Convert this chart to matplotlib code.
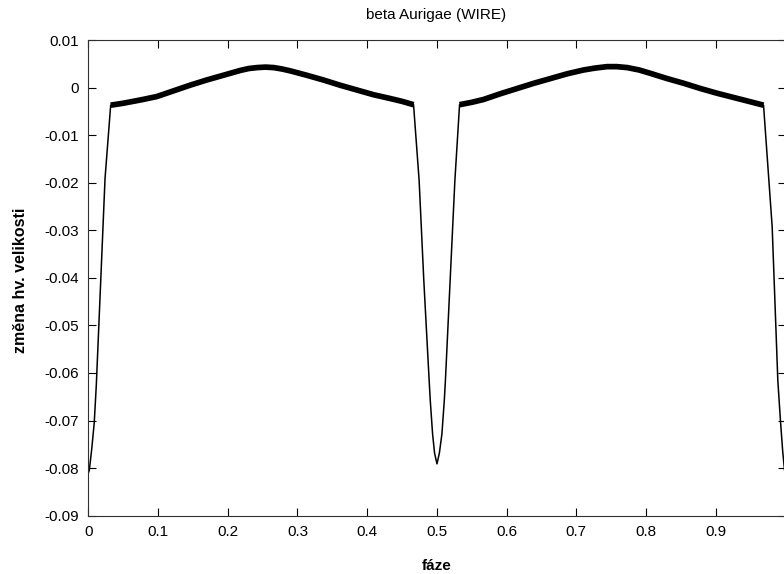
import matplotlib
matplotlib.use("Agg")
import matplotlib.pyplot as plt
import numpy as np

# Light curve of beta Aurigae (WIRE)
phase = [0.0, 0.0014, 0.0049, 0.0085, 0.0115, 0.0180, 0.0240, 0.0321,
         0.0500, 0.0750, 0.0980, 0.1220, 0.1460, 0.1700, 0.1940, 0.2180,
         0.2300, 0.2420, 0.2540, 0.2660, 0.2780, 0.2900, 0.3130, 0.3370,
         0.3610, 0.3850, 0.4090, 0.4330, 0.4500, 0.4665,
         0.4745, 0.4812, 0.4889, 0.4905, 0.4938, 0.4966, 0.5001, 0.5036,
         0.5072, 0.5106, 0.5122, 0.5190, 0.5258, 0.5325,
         0.5500, 0.5670, 0.5910, 0.6150, 0.6390, 0.6630, 0.6870, 0.7105,
         0.7270, 0.7440, 0.7580, 0.7730, 0.7900, 0.8060, 0.8300, 0.8540,
         0.8780, 0.9020, 0.9260, 0.9500, 0.9685,
         0.9809, 0.9890, 0.9928, 0.9960, 0.9986, 1.0]
mag = [-0.0810, -0.0805, -0.0760, -0.0705, -0.0625, -0.0400, -0.0191, -0.0037,
       -0.0033, -0.0026, -0.0019, -0.0007, 0.0005, 0.0016, 0.0026, 0.0036,
       0.0040, 0.0042, 0.0043, 0.0042, 0.0039, 0.0035, 0.0026, 0.0016,
       0.0005, -0.0005, -0.0015, -0.0023, -0.0029, -0.0036,
       -0.0195, -0.0405, -0.0616, -0.0658, -0.0728, -0.0768, -0.0791, -0.0768,
       -0.0728, -0.0658, -0.0616, -0.0405, -0.0195, -0.0036,
       -0.0031, -0.0025, -0.0013, -0.0002, 0.0009, 0.0019, 0.0029, 0.0037,
       0.0041, 0.0044, 0.0044, 0.0042, 0.0037, 0.0030, 0.0019, 0.0009,
       -0.0002, -0.0012, -0.0021, -0.0030, -0.0037,
       -0.0293, -0.0616, -0.0701, -0.0765, -0.0804, -0.0812]

# out-of-eclipse intervals (noisy band drawn thicker)
out_of_eclipse = [(0.0321, 0.4665), (0.5325, 0.9685)]

x_ticks = [0, 0.1, 0.2, 0.3, 0.4, 0.5, 0.6, 0.7, 0.8, 0.9]
x_tick_labels = ["0", "0.1", "0.2", "0.3", "0.4", "0.5", "0.6", "0.7", "0.8", "0.9"]
y_ticks = [0.01, 0, -0.01, -0.02, -0.03, -0.04, -0.05, -0.06, -0.07, -0.08, -0.09]
y_tick_labels = ["0.01", "0", "-0.01", "-0.02", "-0.03", "-0.04", "-0.05",
                 "-0.06", "-0.07", "-0.08", "-0.09"]

plt.rcParams['font.family'] = ['Liberation Sans', 'DejaVu Sans']

fig = plt.figure(figsize=(7.84, 5.74), dpi=100)
W, H = 784, 574
ax = fig.add_axes([88.3 / W, (H - 515.7) / H, (785.5 - 88.3) / W, (515.7 - 40) / H])

ph = np.array(phase)
mg = np.array(mag)
ax.plot(ph, mg, color='black', lw=1.1, solid_joinstyle='round')
for lo, hi in out_of_eclipse:
    m = (ph >= lo) & (ph <= hi)
    ax.plot(ph[m], mg[m], color='black', lw=4.1, solid_capstyle='butt',
            solid_joinstyle='round')

ax.set_xlim(0, 1.0)
ax.set_ylim(-0.09, 0.01)
ax.set_xticks(x_ticks)
ax.set_xticklabels(x_tick_labels)
ax.set_yticks(y_ticks)
ax.set_yticklabels(y_tick_labels)
ax.tick_params(direction='in', length=6, width=0.8, top=True, right=True,
               labelsize=11, colors='black')
ax.tick_params(axis='x', pad=7)
ax.tick_params(axis='y', pad=7)
for s in ax.spines.values():
    s.set_linewidth(0.8)
    s.set_color('#303030')

fig.text(436.5 / W, 1 - 15 / H, "beta Aurigae (WIRE)", ha='center', va='center', fontsize=11)
fig.text(21 / W, 1 - 280 / H, "změna hv. velikosti", ha='center', va='center',
         rotation=90, fontsize=11.5, fontweight='bold')
fig.text(436.5 / W, 1 - 566 / H, "fáze", ha='center', va='center', fontsize=11,
         fontweight='bold')

fig.savefig("out.png", dpi=100)
